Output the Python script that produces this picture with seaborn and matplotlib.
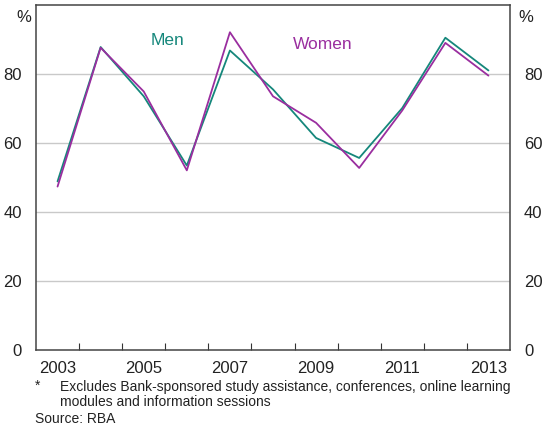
import matplotlib
matplotlib.use("Agg")
import matplotlib.pyplot as plt
import seaborn as sns
import pandas as pd
from matplotlib.ticker import FixedLocator

years = [2003, 2004, 2005, 2006, 2007, 2008, 2009, 2010, 2011, 2012, 2013]
men = [48.8, 87.8, 73.5, 53.4, 86.8, 75.5, 61.4, 55.6, 70.1, 90.5, 81.0]
women = [47.3, 87.6, 74.9, 52.0, 92.1, 73.5, 65.8, 52.7, 69.4, 89.0, 79.5]
series = ["Men", "Women"]
colors = {"Men": "#15877b", "Women": "#9a2e9f"}
x_labels = [2003, 2005, 2007, 2009, 2011, 2013]
y_ticks = [0, 20, 40, 60, 80]

df = pd.DataFrame({
    "year": years * 2,
    "value": men + women,
    "series": ["Men"] * len(years) + ["Women"] * len(years),
})

sns.set_theme(style="white")
plt.rcParams["font.family"] = ["Liberation Sans", "DejaVu Sans"]

fig = plt.figure(figsize=(5.46, 4.28), dpi=100)
ax = fig.add_axes([36 / 546, 1 - 349.5 / 428, (510 - 36) / 546, (349.5 - 5) / 428])

ax.set_ylim(0, 100)
ax.set_xlim(2002.5, 2013.5)
for v in [20, 40, 60, 80]:
    ax.axhline(v, color="#c9c9c9", lw=1.0, zorder=0)

sns.lineplot(data=df, x="year", y="value", hue="series", palette=colors,
             hue_order=series, lw=1.3, ax=ax, legend=False, zorder=3)

ax.set_xlabel("")
ax.set_ylabel("")
ax.set_yticks(y_ticks)
ax.set_yticklabels([str(v) for v in y_ticks])
ax.tick_params(axis="y", left=False, right=False, labelleft=True, labelright=True,
               labelsize=12, colors="#222222", pad=4)
ax.set_xticks(x_labels)
ax.set_xticklabels([str(v) for v in x_labels])
ax.xaxis.set_minor_locator(FixedLocator([y + 0.5 for y in years[:-1]]))
ax.tick_params(axis="x", which="major", bottom=False, labelsize=12,
               colors="#222222", pad=2.5)
ax.tick_params(axis="x", which="minor", bottom=True, direction="in",
               length=5, width=0.8, color="#333333")

for s in ax.spines.values():
    s.set_color("#444444")
    s.set_linewidth(1.1)
    s.set_visible(True)

ax.text(2005.55, 89.8, "Men", color=colors["Men"], fontsize=12.5, ha="center", va="center")
ax.text(2009.15, 88.6, "Women", color=colors["Women"], fontsize=12.5, ha="center", va="center")

fig.text(23.5 / 546, 1 - 17.5 / 428, "%", fontsize=12, ha="center", va="center", color="#222222")
fig.text(526 / 546, 1 - 17.5 / 428, "%", fontsize=12, ha="center", va="center", color="#222222")

fs = 10
fig.text(35 / 546, 1 - 386 / 428, "*", fontsize=fs, ha="left", va="center", color="#222222")
fig.text(60 / 546, 1 - 387 / 428,
         "Excludes Bank-sponsored study assistance, conferences, online learning",
         fontsize=fs, ha="left", va="center", color="#222222")
fig.text(60 / 546, 1 - 402 / 428, "modules and information sessions",
         fontsize=fs, ha="left", va="center", color="#222222")
fig.text(35 / 546, 1 - 419 / 428, "Source: RBA",
         fontsize=fs, ha="left", va="center", color="#222222")

fig.savefig("out.png", dpi=100)
